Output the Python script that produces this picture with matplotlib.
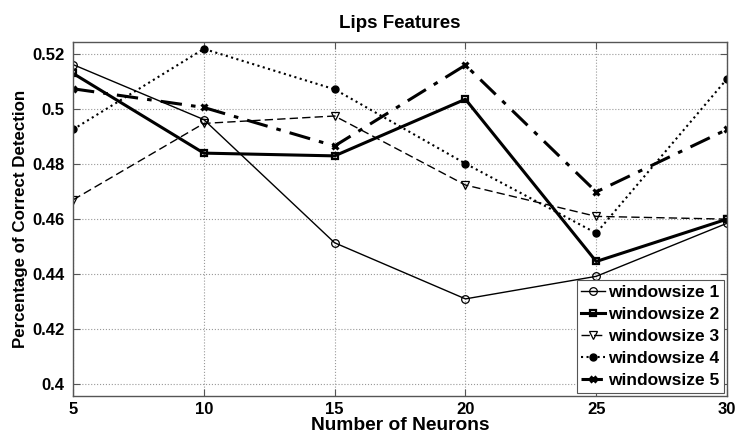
import matplotlib
matplotlib.use("Agg")
import matplotlib.pyplot as plt

plt.rcParams["font.family"] = ["Liberation Sans", "DejaVu Sans"]
plt.rcParams["font.weight"] = "bold"

# Detection rate per hidden-layer size for each window size
neurons = [5, 10, 15, 20, 25, 30]
win1 = [0.5162, 0.4962, 0.4514, 0.4310, 0.4392, 0.4585]
win2 = [0.5130, 0.4840, 0.4830, 0.5036, 0.4446, 0.4600]
win3 = [0.4670, 0.4948, 0.4975, 0.4724, 0.4610, 0.4600]
win4 = [0.4926, 0.5219, 0.5072, 0.4802, 0.4549, 0.5110]
win5 = [0.5074, 0.5006, 0.4866, 0.5160, 0.4699, 0.4926]
labels = ["windowsize 1", "windowsize 2", "windowsize 3", "windowsize 4", "windowsize 5"]

fig = plt.figure(figsize=(7.36, 4.34), dpi=100)
ax = fig.add_axes([0.0992, 0.0876, 0.8886, 0.8156])

ax.plot(neurons, win1, "-", color="k", lw=1.0, marker="o", ms=5.5,
        mfc="none", mew=0.9, label=labels[0])
ax.plot(neurons, win2, "-", color="k", lw=2.2, marker="s", ms=5,
        mfc="none", mew=1.6, label=labels[1])
ax.plot(neurons, win3, "--", color="k", lw=1.0, marker="v", ms=5.5,
        mfc="none", mew=0.9, dashes=(6, 3), label=labels[2])
ax.plot(neurons, win4, ":", color="k", lw=1.5, marker="o", ms=5,
        mfc="k", label=labels[3])
ax.plot(neurons, win5, "-.", color="k", lw=2.2, marker="x", ms=5,
        mew=2.2, dashes=(7, 3, 1.5, 3), label=labels[4])

ax.set_xlim(5, 30)
ax.set_ylim(0.3957, 0.5244)
ax.set_xticks(neurons)
ax.set_yticks([0.40, 0.42, 0.44, 0.46, 0.48, 0.50, 0.52])
ax.set_yticklabels(["0.4", "0.42", "0.44", "0.46", "0.48", "0.5", "0.52"])
ax.tick_params(direction="in", top=True, right=True, labelsize=12,
               length=5, width=0.8, color="#555555")
ax.tick_params(axis="x", pad=4)
ax.tick_params(axis="y", pad=6)
for s in ax.spines.values():
    s.set_color("#555555")
    s.set_linewidth(1.0)
ax.grid(True, ls=":", color="#999999", lw=0.8)

# x label sits tight under the tick labels, at the bottom edge of the figure
fig.text(0.5435, 0.0, "Number of Neurons", fontsize=13.8, fontweight="bold",
         ha="center", va="bottom")
ax.set_ylabel("Percentage of Correct Detection", fontsize=12.2,
              fontweight="bold", labelpad=3)
ax.set_title("Lips Features", fontsize=13.5, fontweight="bold", pad=10)

leg = ax.legend(loc="lower right", prop={"weight": "bold", "size": 12.5},
                handlelength=1.4, handletextpad=0.15, labelspacing=0.4,
                borderpad=0.25, borderaxespad=0.2, fancybox=False,
                framealpha=1, edgecolor="#555555")
leg.get_frame().set_linewidth(0.8)

fig.savefig("out.png", dpi=100)
